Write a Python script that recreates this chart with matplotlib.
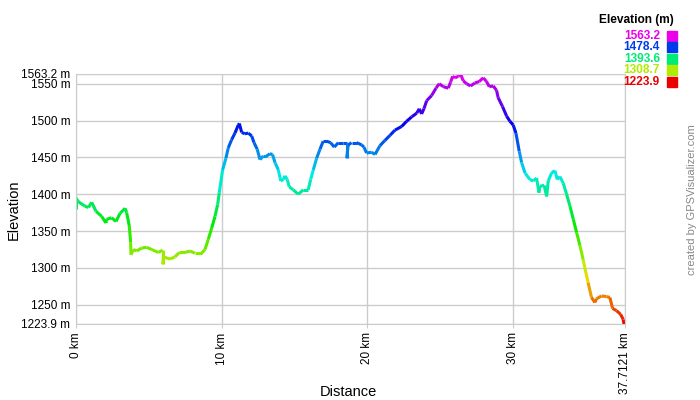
import numpy as np
import matplotlib
matplotlib.use("Agg")
import matplotlib.pyplot as plt
from matplotlib.collections import LineCollection
from matplotlib.colors import hsv_to_rgb

plt.rcParams['font.family'] = ['Liberation Sans', 'DejaVu Sans']

# distance (km) and elevation (m)
dist = [0.0, 0.0, 0.15, 0.6, 0.85, 1.08, 1.37, 1.76, 2.06, 2.1, 2.45, 2.75, 3.02, 3.37, 3.48,
        3.66, 3.75, 3.78, 3.94, 4.17, 4.51, 4.85, 5.2, 5.65, 5.95, 5.95, 6.0, 6.46, 6.8, 7.1,
        7.49, 7.83, 8.17, 8.63, 8.86, 9.09, 9.32, 9.55, 9.73, 9.84, 10.07, 10.3, 10.46, 10.69,
        10.92, 11.15, 11.22, 11.38, 11.6, 11.84, 12.07, 12.23, 12.45, 12.64, 12.86, 13.1, 13.32,
        13.5, 13.67, 13.9, 14.06, 14.24, 14.35, 14.51, 14.65, 14.92, 15.27, 15.61, 15.95, 16.12,
        16.3, 16.53, 16.76, 16.98, 17.22, 17.49, 17.74, 18.02, 18.36, 18.59, 18.59, 18.7, 18.93,
        19.28, 19.62, 19.78, 19.96, 20.31, 20.54, 20.88, 21.22, 21.57, 21.91, 22.37, 22.71,
        23.06, 23.4, 23.58, 23.74, 23.9, 24.09, 24.43, 24.73, 24.95, 25.23, 25.57, 25.73, 25.87,
        26.03, 26.26, 26.42, 26.6, 26.83, 27.11, 27.4, 27.7, 27.97, 28.2, 28.39, 28.66, 28.89,
        29.0, 29.3, 29.58, 29.81, 30.03, 30.22, 30.45, 30.61, 30.84, 31.18, 31.41, 31.64, 31.8,
        31.87, 32.16, 32.33, 32.44, 32.67, 32.9, 33.06, 33.24, 33.47, 33.7, 33.93, 34.16, 34.39,
        34.62, 34.84, 35.03, 35.18, 35.41, 35.64, 35.75, 36.1, 36.44, 36.67, 36.86, 37.13,
        37.41, 37.59, 37.64, 37.7121]
elev = [1380, 1395, 1390, 1384, 1382, 1389, 1377, 1370, 1361, 1366, 1368, 1363, 1374, 1381, 1375,
        1357, 1335, 1318, 1325, 1323, 1327, 1328, 1325, 1321, 1324, 1305, 1315, 1312, 1315, 1321,
        1321, 1323, 1320, 1320, 1325, 1339, 1354, 1370, 1386, 1402, 1433, 1449, 1463, 1474,
        1483, 1494, 1496, 1484, 1482, 1483, 1479, 1470, 1461, 1447, 1452, 1452, 1455,
        1454, 1443, 1433, 1418, 1420, 1425, 1420, 1410, 1406, 1400, 1406, 1406, 1420,
        1433, 1449, 1461, 1472, 1472, 1470, 1464, 1470, 1470, 1470, 1449, 1467, 1470,
        1470, 1467, 1464, 1456, 1457, 1454, 1466, 1473, 1480, 1487, 1492, 1499,
        1505, 1510, 1516, 1509, 1516, 1527, 1534, 1544, 1550, 1546, 1544, 1552, 1560,
        1558, 1560, 1563, 1554, 1550, 1547, 1551, 1553, 1558, 1553, 1546, 1547, 1541,
        1531, 1519, 1506, 1499, 1494, 1483, 1458, 1443, 1429, 1420, 1418, 1422, 1402,
        1411, 1412, 1397, 1418, 1429, 1432, 1420, 1424, 1415, 1400, 1384, 1366, 1348,
        1330, 1311, 1293, 1280, 1260, 1253, 1258, 1262, 1261, 1260, 1245, 1242,
        1237, 1230, 1224, 1223.9]

emin, emax = 1223.9, 1563.2
legend_vals = [1563.2, 1478.4, 1393.6, 1308.7, 1223.9]
yticks = [1223.9, 1250, 1300, 1350, 1400, 1450, 1500, 1550, 1563.2]
ytick_labels = ["1223.9 m", "1250 m", "1300 m", "1350 m", "1400 m", "1450 m", "1500 m", "1550 m", "1563.2 m"]
xticks = [0, 10, 20, 30, 37.7121]
xtick_labels = ["0 km", "10 km", "20 km", "30 km", "37.7121 km"]


def elev_color(e):
    h = (e - emin) / (emax - emin) * 300.0 / 360.0
    return hsv_to_rgb([h, 1.0, 0.92])


fig = plt.figure(figsize=(7, 4), dpi=100)
ax = fig.add_axes([76 / 700, 1 - 324 / 400, 549 / 700, 250 / 400])

x = np.array(dist)
y = np.array(elev)
pts = np.column_stack([x, y]).reshape(-1, 1, 2)
segs = np.concatenate([pts[:-1], pts[1:]], axis=1)
cols = [elev_color((a + b) / 2) for a, b in zip(y[:-1], y[1:])]
ax.add_collection(LineCollection(segs, colors=cols, linewidths=2.2))

ax.set_xlim(0, 37.7121)
ax.set_ylim(emin, emax)
ax.set_yticks(yticks)
ax.set_yticklabels(ytick_labels, fontsize=8.5)
ax.set_xticks(xticks)
ax.set_xticklabels(xtick_labels, fontsize=8.5, rotation=90, va='top')
ax.grid(True, color='#cccccc', linewidth=1)
ax.set_axisbelow(True)
for s in ax.spines.values():
    s.set_color('#cccccc')
ax.tick_params(axis='y', length=0, pad=4)
ax.tick_params(axis='x', length=3, color='#cccccc', pad=3)
ax.set_ylabel("Elevation", fontsize=10.5)
ax.set_xlabel("Distance", fontsize=10.5)
# place the axis titles where the reference has them (axes fraction)
ax.yaxis.set_label_coords((14 - 76) / 549, (324 - 210) / 250)
ax.xaxis.set_label_coords((348 - 76) / 549, (324 - 392) / 250)
ax.yaxis.label.set_va('center')
ax.xaxis.label.set_va('center')

# legend in the top right corner
fig.text(674 / 700, 1 - 20 / 400, "Elevation (m)", fontsize=8.6, fontweight='bold',
         ha='right', va='center')
for i, v in enumerate(legend_vals):
    yy = 1 - (36 + 11.4 * i) / 400
    c = elev_color(v)
    fig.text(660 / 700, yy, "%.1f" % v, color=c, fontsize=8.6, fontweight='bold',
             ha='right', va='center')
    fig.patches.append(plt.Rectangle((667 / 700, yy - 5 / 400), 10 / 700, 10 / 400,
                                     transform=fig.transFigure, color=c))

fig.text(692 / 700, 1 - 200 / 400, "created by GPSVisualizer.com", rotation=90,
         color='#888888', fontsize=8, ha='center', va='center')

fig.savefig("out.png", dpi=100)
